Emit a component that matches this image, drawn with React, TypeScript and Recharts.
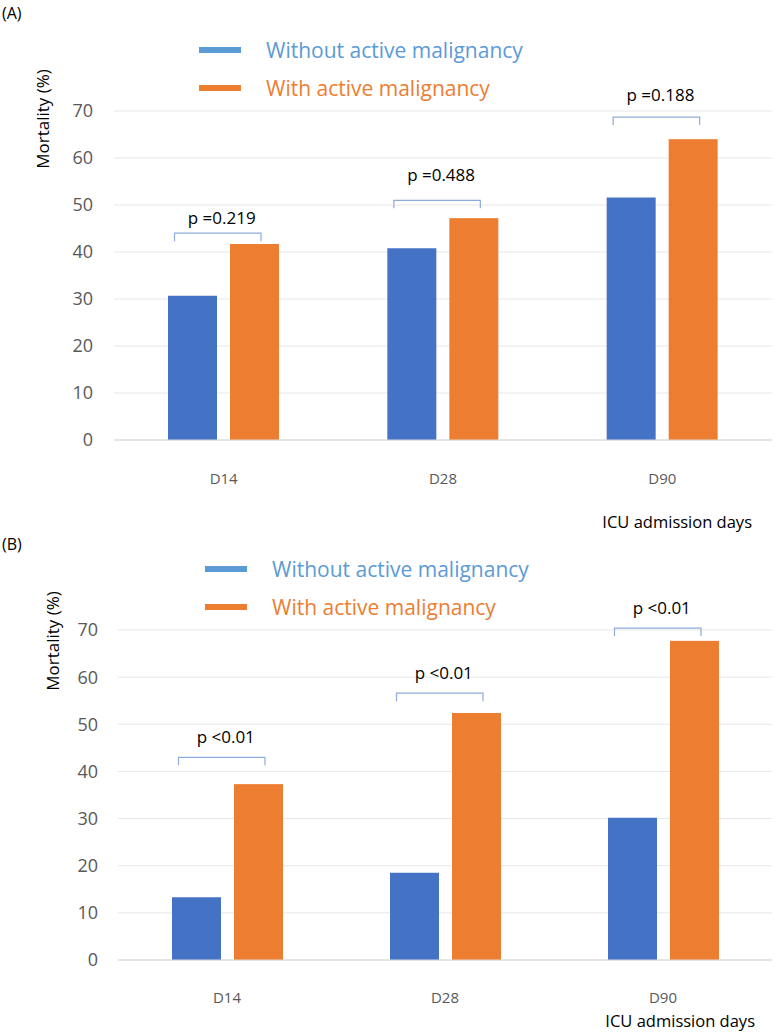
import React from 'react';
import { BarChart, Bar, XAxis, YAxis, CartesianGrid } from 'recharts';

const categories = ['D14', 'D28', 'D90'];
const seriesNames = ['Without active malignancy', 'With active malignancy'];
const yTicks = [0, 10, 20, 30, 40, 50, 60, 70];

const panelAWithout = [30.7, 40.8, 51.6];
const panelAWith = [41.7, 47.2, 64.0];
const panelAPLabels = ['p =0.219', 'p =0.488', 'p =0.188'];
const panelABracket = [44.0, 51.0, 68.7];
const panelAPText = [47.2, 56.4, 73.4];

const panelBWithout = [13.3, 18.5, 30.2];
const panelBWith = [37.3, 52.4, 67.7];
const panelBPLabels = ['p <0.01', 'p <0.01', 'p <0.01'];
const panelBBracket = [43.0, 56.6, 70.4];
const panelBPText = [47.2, 60.8, 74.6];

const BAR_BLUE = '#4472C4';
const BAR_ORANGE = '#ED7D31';
const LEG_BLUE = '#5B9BD5';
const FONT = '"Open Sans", "Noto Sans", sans-serif';
const BAR_SIZE = 49;
const BAR_GAP = 13;

const makeShape = (pLabels: string[], bracket: number[], ptext: number[]) => (props: any) => {
  const { x, y, width, height, index, fill, payload } = props;
  const v = payload && typeof payload.with === 'number' ? payload.with : props.value;
  const zero = y + height;
  const ppu = height / v;
  const by = zero - bracket[index] * ppu;
  const ty = zero - ptext[index] * ppu;
  const blueX = x - width - BAR_GAP;
  const left = blueX + 6.5;
  const right = x + width - 18;
  return (
    <g>
      <rect x={x} y={y} width={width} height={height} fill={fill} />
      <path d={`M${left},${by + 8}V${by}H${right}V${by + 8}`} stroke="#8FAADC" fill="none" strokeWidth={1.2} />
      <text x={(left + right) / 2 + 4} y={ty} dy="0.35em" textAnchor="middle" fontSize={17} fill="#000" fontFamily={FONT}>
        {pLabels[index]}
      </text>
    </g>
  );
};

type PanelProps = {
  top: number;
  height: number;
  tag: string;
  without: number[];
  withM: number[];
  pLabels: string[];
  bracket: number[];
  ptext: number[];
  plotTop: number;
  plotLeft: number;
  tickMarginX: number;
  tickMarginY: number;
  legendX: number;
  legendY: number;
  titleX: number;
  titleY: number;
  icuRight: number;
  icuY: number;
  tagY: number;
};

function Panel(p: PanelProps) {
  const data = categories.map((c, i) => ({ name: c, without: p.without[i], with: p.withM[i] }));
  const legendColors = [LEG_BLUE, BAR_ORANGE];
  return (
    <div style={{ position: 'absolute', left: 0, top: p.top, width: 777, height: p.height }}>
      <div style={{ position: 'absolute', left: 2, top: p.tagY, transform: 'translateY(-50%)', fontSize: 16, lineHeight: 1.3, color: '#000', fontFamily: FONT }}>{p.tag}</div>
      {seriesNames.map((s, i) => (
        <div key={s}>
          <div style={{ position: 'absolute', left: p.legendX, top: p.legendY + i * 37.5 - 3, width: 42, height: 6, background: legendColors[i] }} />
          <div style={{ position: 'absolute', left: p.legendX + 67, top: p.legendY + i * 37.5, transform: 'translateY(-50%)', fontSize: 21, lineHeight: 1, color: legendColors[i], fontFamily: FONT, whiteSpace: 'nowrap' }}>{s}</div>
        </div>
      ))}
      <div style={{ position: 'absolute', left: p.titleX, top: p.titleY, transform: 'translate(-50%,-50%) rotate(-90deg)', fontSize: 17, lineHeight: 1, color: '#000', fontFamily: FONT, whiteSpace: 'nowrap' }}>Mortality (%)</div>
      <div style={{ position: 'absolute', right: 777 - p.icuRight, top: p.icuY, transform: 'translateY(-50%)', fontSize: 16.5, lineHeight: 1, color: '#000', fontFamily: FONT, whiteSpace: 'nowrap' }}>ICU admission days</div>
      <BarChart
        width={777}
        height={p.height}
        data={data}
        margin={{ top: p.plotTop, right: 5, bottom: 0, left: 0 }}
        barSize={BAR_SIZE}
        barGap={BAR_GAP}
      >
        <CartesianGrid vertical={false} stroke="#E7E7E7" strokeWidth={1} />
        <XAxis
          dataKey="name"
          height={p.height - 440}
          axisLine={{ stroke: '#D9D9D9' }}
          tickLine={false}
          tickSize={0}
          tickMargin={p.tickMarginX}
          tick={{ fontSize: 15, fill: '#595959', fontFamily: FONT }}
        />
        <YAxis
          width={p.plotLeft}
          domain={[0, 70]}
          ticks={yTicks}
          axisLine={false}
          tickLine={false}
          tickSize={0}
          tickMargin={p.tickMarginY}
          tick={{ fontSize: 18, fill: '#595959', fontFamily: FONT }}
        />
        <Bar dataKey="without" name={seriesNames[0]} fill={BAR_BLUE} isAnimationActive={false} />
        <Bar dataKey="with" name={seriesNames[1]} fill={BAR_ORANGE} isAnimationActive={false} shape={makeShape(p.pLabels, p.bracket, p.ptext)} />
      </BarChart>
    </div>
  );
}

export default function App() {
  return (
    <div style={{ position: 'absolute', left: 0, top: 0, width: 777, height: 1032, background: '#fff', overflow: 'hidden' }}>
      <Panel
        top={0}
        height={520}
        tag="(A)"
        without={panelAWithout}
        withM={panelAWith}
        pLabels={panelAPLabels}
        bracket={panelABracket}
        ptext={panelAPText}
        plotTop={111}
        plotLeft={114}
        tickMarginX={33}
        tickMarginY={21}
        legendX={199}
        legendY={50}
        titleX={42}
        titleY={118.5}
        icuRight={752}
        icuY={522}
        tagY={13}
      />
      <Panel
        top={520}
        height={512}
        tag="(B)"
        without={panelBWithout}
        withM={panelBWith}
        pLabels={panelBPLabels}
        bracket={panelBBracket}
        ptext={panelBPText}
        plotTop={110}
        plotLeft={118}
        tickMarginX={32}
        tickMarginY={20}
        legendX={205}
        legendY={49.3}
        titleX={52}
        titleY={120.5}
        icuRight={755}
        icuY={501}
        tagY={24}
      />
    </div>
  );
}
